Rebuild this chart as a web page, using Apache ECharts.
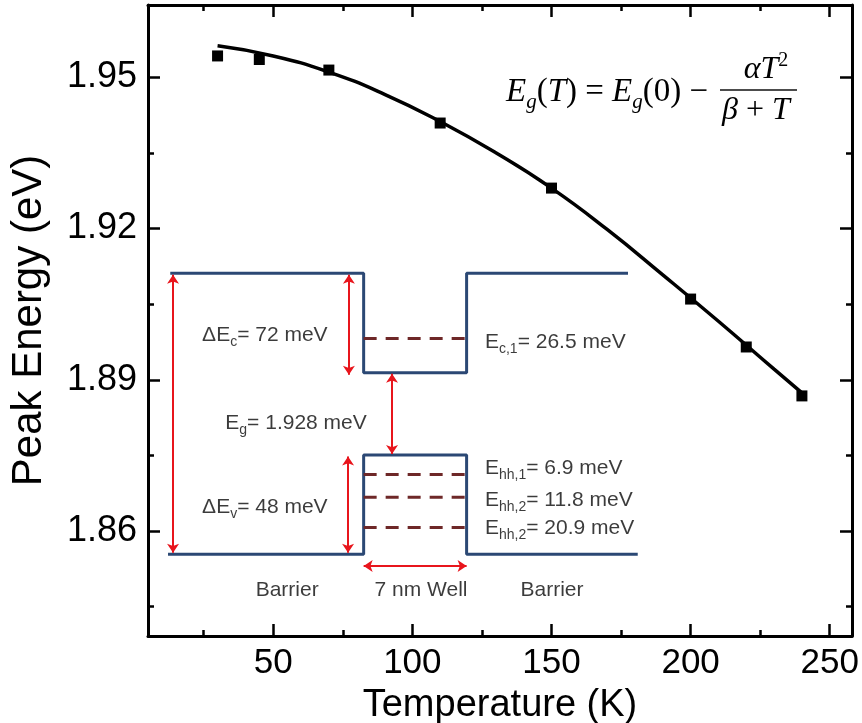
<!DOCTYPE html>
<html>
<head>
<meta charset="utf-8">
<script src="https://cdn.jsdelivr.net/npm/echarts@6/dist/echarts.min.js"></script>
<style>
html, body { margin: 0; background: #fff; }
#chart { width: 862px; height: 723px; }
</style>
</head>
<body>
<div id="chart"></div>
<script>
// measured peak energies
const tempK = [30, 45, 70, 110, 150, 200, 220, 240];
const peakEV = [1.9542, 1.9535, 1.9514, 1.9409, 1.9280, 1.9060, 1.8965, 1.8868];

// Varshni fit
const fitT = [30, 50, 70, 90, 110, 130, 150, 170, 190, 210, 230, 240];
const fitE = [1.9562, 1.9542, 1.9510, 1.9466, 1.9412, 1.9350, 1.9280, 1.9198, 1.9108, 1.9016, 1.8921, 1.8874];

// ticks
const xMajor = [50, 100, 150, 200, 250];
const xMinor = [25, 75, 125, 175, 225];
const yMajor = [1.86, 1.89, 1.92, 1.95];
const yMinor = [1.845, 1.875, 1.905, 1.935];

// band diagram inset, in plot units (K, eV)
const cbT = [13, 82.5, 82.5, 119.5, 119.5, 177.5];
const cbE = [1.9111, 1.9111, 1.8914, 1.8914, 1.9111, 1.9111];
const vbT = [12.2, 82.5, 82.5, 119.5, 119.5, 181];
const vbE = [1.8554, 1.8554, 1.8751, 1.8751, 1.8554, 1.8554];
const wellT = [82.5, 119.5];
const levelE = [1.8982, 1.8712, 1.8667, 1.8607];

// red arrows: [T1, E1, T2, E2]
const arrows = [
	[14, 1.9108, 14, 1.8557],
	[77.2, 1.9108, 77.2, 1.8910],
	[92.7, 1.8912, 92.7, 1.8753],
	[76.9, 1.8748, 76.9, 1.8557],
	[82.5, 1.8531, 119.5, 1.8531]
]

// inset labels
const midT = [47, 58.2, 47, 55, 103.1, 150.2];
const midE = [1.8989, 1.8814, 1.8648, 1.8483, 1.8483, 1.8483];
const midText = ['{n|ΔE}{s|c}{n|= 72 meV}', '{n|E}{s|g}{n|= 1.928 meV}', '{n|ΔE}{s|v}{n|= 48 meV}', '{n|Barrier}', '{n|7 nm Well}', '{n|Barrier}'];
const sideT = [126.1, 126.1, 126.1, 126.1];
const sideE = [1.8975, 1.8725, 1.8661, 1.8606];
const sideText = ['{n|E}{s|c,1}{n|= 26.5 meV}', '{n|E}{s|hh,1}{n|= 6.9 meV}', '{n|E}{s|hh,2}{n|= 11.8 meV}', '{n|E}{s|hh,2}{n|= 20.9 meV}'];

const FONT = '"Liberation Sans", Arial, sans-serif'
const SERIF = '"Liberation Serif", "Times New Roman", serif'

const chart = echarts.init(document.getElementById('chart'))

function axis(pos, range, ticks, len, opts) {
	return Object.assign({
		type: 'value',
		position: pos,
		min: range[0],
		max: range[1],
		splitLine: { show: false },
		axisLine: { show: false },
		axisTick: {
			show: true,
			inside: true,
			length: len,
			customValues: ticks,
			lineStyle: { color: '#000', width: 2.5 }
		},
		axisLabel: { show: false }
	}, opts || {})
}

const frame = { show: true, onZero: false, lineStyle: { color: '#000', width: 3 } }
const xRange = [5, 258]
const yRange = [1.8392, 1.9643]

const richText = {
	n: { fontSize: 21, fontFamily: FONT, color: '#0a0a0a', lineHeight: 28 },
	s: { fontSize: 14, fontFamily: FONT, color: '#0a0a0a', lineHeight: 28, verticalAlign: 'bottom' }
}

chart.setOption({
	backgroundColor: '#fff',
	animation: false,
	grid: { left: 148, right: 10, top: 5, bottom: 87, outerBoundsMode: 'none' },
	xAxis: [
		axis('bottom', xRange, xMajor, 12, {
			axisLine: frame,
			axisLabel: {
				show: true, customValues: xMajor, fontSize: 35, fontFamily: FONT, color: '#000', margin: 10
			},
			name: 'Temperature (K)',
			nameLocation: 'middle',
			nameGap: 51,
			nameTextStyle: { fontSize: 38, fontFamily: FONT, color: '#000', verticalAlign: 'top' }
		}),
		axis('bottom', xRange, xMinor, 6),
		axis('top', xRange, xMajor, 12, { axisLine: frame }),
		axis('top', xRange, xMinor, 6)
	],
	yAxis: [
		axis('left', yRange, yMajor, 12, {
			axisLine: frame,
			axisLabel: {
				show: true, customValues: yMajor, fontSize: 36, fontFamily: FONT, color: '#000', margin: 11,
				formatter: v => v.toFixed(2)
			},
			name: 'Peak Energy (eV)',
			nameLocation: 'middle',
			nameGap: 98,
			nameTextStyle: { fontSize: 42, fontFamily: FONT, color: '#000' }
		}),
		axis('left', yRange, yMinor, 6),
		axis('right', yRange, yMajor, 12, { axisLine: frame }),
		axis('right', yRange, yMinor, 6)
	],
	graphic: [
		{
			type: 'text', x: 506, y: 92,
			style: {
				text: '{i|E}{s|g}{n|(}{i|T}{n|) = }{i|E}{s|g}{n|(0) − }',
				verticalAlign: 'middle',
				rich: {
					i: { fontSize: 33, fontFamily: SERIF, fontStyle: 'italic', color: '#111', lineHeight: 42 },
					n: { fontSize: 33, fontFamily: SERIF, color: '#111', lineHeight: 42 },
					s: { fontSize: 21, fontFamily: SERIF, fontStyle: 'italic', color: '#111', lineHeight: 42, verticalAlign: 'bottom' }
				}
			}
		},
		{
			type: 'text', x: 766, y: 70,
			style: {
				text: '{i|αT}{p|2}',
				align: 'center', verticalAlign: 'middle',
				rich: {
					i: { fontSize: 32, fontFamily: SERIF, fontStyle: 'italic', color: '#111', lineHeight: 38 },
					p: { fontSize: 20, fontFamily: SERIF, color: '#111', lineHeight: 38, verticalAlign: 'top' }
				}
			}
		},
		{ type: 'line', shape: { x1: 720, y1: 90, x2: 797, y2: 90 }, style: { stroke: '#111', lineWidth: 1.5 } },
		{
			type: 'text', x: 756, y: 111,
			style: {
				text: '{i|β}{n| + }{i|T}',
				align: 'center', verticalAlign: 'middle',
				rich: {
					i: { fontSize: 32, fontFamily: SERIF, fontStyle: 'italic', color: '#111' },
					n: { fontSize: 32, fontFamily: SERIF, color: '#111' }
				}
			}
		}
	],
	series: [
		{
			type: 'line',
			data: cbT.map((t, i) => [t, cbE[i]]),
			showSymbol: false,
			lineStyle: { color: '#2b4874', width: 3 },
			z: 2
		},
		{
			type: 'line',
			data: vbT.map((t, i) => [t, vbE[i]]),
			showSymbol: false,
			lineStyle: { color: '#2b4874', width: 3 },
			z: 2
		},
		...levelE.map(e => ({
			type: 'line',
			data: wellT.map(t => [t, e]),
			showSymbol: false,
			lineStyle: { color: '#6e2828', width: 3, type: [13, 9] },
			z: 3
		})),
		{
			type: 'lines',
			coordinateSystem: 'cartesian2d',
			data: arrows.map(a => ({ coords: [[a[0], a[1]], [a[2], a[3]]] })),
			symbol: ['arrow', 'arrow'],
			symbolSize: 9,
			lineStyle: { color: '#e8151c', width: 2, opacity: 1 },
			z: 3
		},
		{
			type: 'scatter',
			data: midT.map((t, i) => [t, midE[i], midText[i]]),
			symbolSize: 0,
			label: {
				show: true, position: 'inside', formatter: p => p.data[2],
				fontSize: 21, fontFamily: FONT, color: '#0a0a0a', rich: richText
			},
			z: 4
		},
		{
			type: 'scatter',
			data: sideT.map((t, i) => [t, sideE[i], sideText[i]]),
			symbolSize: 0,
			label: {
				show: true, position: 'right', distance: 0, formatter: p => p.data[2],
				fontSize: 21, fontFamily: FONT, color: '#0a0a0a', rich: richText
			},
			z: 4
		},
		{
			type: 'line',
			data: fitT.map((t, i) => [t, fitE[i]]),
			smooth: true,
			showSymbol: false,
			lineStyle: { color: '#000', width: 3.5 },
			z: 5
		},
		{
			type: 'scatter',
			data: tempK.map((t, i) => [t, peakEV[i]]),
			symbol: 'rect',
			symbolSize: 11,
			itemStyle: { color: '#000', opacity: 1 },
			z: 6
		}
	]
})
</script>
</body>
</html>
